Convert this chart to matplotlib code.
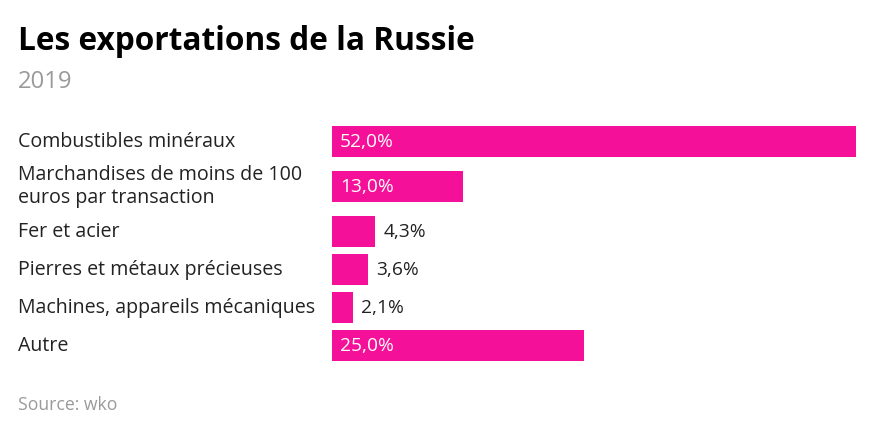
# Bar chart: exportations de la Russie, 2019

import matplotlib as mpl
mpl.use('Agg')
import matplotlib.pyplot as plt

categories = ["Combustibles minéraux",
              "Marchandises de moins de 100\neuros par transaction",
              "Fer et acier",
              "Pierres et métaux précieuses",
              "Machines, appareils mécaniques",
              "Autre"]
values = [52.0, 13.0, 4.3, 3.6, 2.1, 25.0]
value_labels = ["52,0%", "13,0%", "4,3%", "3,6%", "2,1%", "25,0%"]

title = "Les exportations de la Russie"
subtitle = "2019"
source = "Source: wko"

W, H = 873, 433
pink = "#F5109A"
font = "Open Sans"

fig = plt.figure(figsize=(W / 100, H / 100), dpi=100)

# row layout in pixels: one-line rows 38px, two-line rows 52px
top = 122
row_h = [38 + 14 * (c.count("\n")) for c in categories]
centers = []
y = top
for h in row_h:
    centers.append(y + h / 2)
    y += h
bottom = y

x0, x1 = 332, 856
ax = fig.add_axes([x0 / W, 1 - bottom / H, (x1 - x0) / W, (bottom - top) / H])
ax.set_xlim(0, max(values))
ax.set_ylim(bottom, top)
ax.axis("off")

ax.barh(centers, values, height=31, color=pink, linewidth=0)

px = max(values) / (x1 - x0)  # data units per pixel
for c, v, lab, name in zip(centers, values, value_labels, categories):
    if v > 8:
        ax.text(8 * px, c + 1, lab, color="white", fontsize=13.8, family=font,
                va="center", ha="left")
    else:
        ax.text(v + 8 * px, c + 1, lab, color="#222222", fontsize=13.8, family=font,
                va="center", ha="left")
    fig.text(18 / W, 1 - (c + 1) / H, name, color="#222222", fontsize=14.1,
             family=font, va="center", ha="left", linespacing=1.2)

fig.text(18 / W, 1 - 42 / H, title, fontsize=22.8, fontweight="bold", family=font,
         color="#000000", va="center", ha="left")
fig.text(18 / W, 1 - 82 / H, subtitle, fontsize=17.2, family=font,
         color="#9a9a9a", va="center", ha="left")
fig.text(18 / W, 1 - 405 / H, source, fontsize=12.7, family=font,
         color="#9a9a9a", va="center", ha="left")

fig.savefig("out.png", dpi=100)
